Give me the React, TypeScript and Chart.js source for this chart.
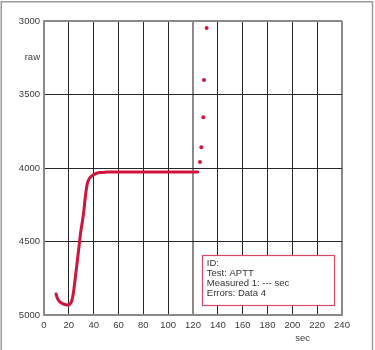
import React, { useEffect, useRef } from "react";
import { Chart, registerables } from "chart.js";

Chart.register(...registerables);

// Curve (seconds vs raw signal)
const curveSec = [9.7, 10.5, 11.5, 13, 15, 17.5, 19.6, 21, 22.3, 23.6, 25, 26.9, 28.5, 29.8, 31.7, 33, 34, 34.9, 36, 37, 38.5, 40, 42.5, 45, 50, 60, 80, 100, 123.8];
const curveRaw = [4857, 4880, 4898, 4913, 4923, 4930, 4932, 4925, 4905, 4853, 4762, 4626, 4512, 4422, 4320, 4218, 4150, 4106, 4080, 4066, 4054, 4045, 4036, 4031, 4028, 4027, 4027, 4027, 4027];

// Scattered dots after the curve
const dotSec = [125.6, 126.7, 128.3, 128.9, 131];
const dotRaw = [3959, 3859, 3655, 3401, 3048];

// Axis ranges / ticks
const xMin = 0;
const xMax = 240;
const xStep = 20;
const yMin = 3000;
const yMax = 5000;
const yStep = 500;
const markerSec = 120;

const yTitle = "raw";
const xTitle = "sec";
const infoLines = ["ID:", "Test: APTT", "Measured 1: --- sec", "Errors: Data 4"];
// info box corners in data units
const boxSec = [127.5, 233.5];
const boxRaw = [4592, 4932];

const RED = "#d2143c";
const TICK_FONT = "'Liberation Sans Narrow', 'Liberation Sans', sans-serif";

const overlay = {
  id: "overlay",
  beforeDraw(chart: any) {
    const { ctx, width, height } = chart;
    ctx.save();
    ctx.fillStyle = "#ffffff";
    ctx.fillRect(0, 0, width, height);
    ctx.strokeStyle = "#9a9a9a";
    ctx.lineWidth = 1.5;
    ctx.beginPath();
    ctx.moveTo(1.25, height);
    ctx.lineTo(1.25, 1.75);
    ctx.lineTo(width - 2.5, 1.75);
    ctx.lineTo(width - 2.5, height);
    ctx.stroke();
    ctx.restore();
  },
  afterDatasetsDraw(chart: any) {
    const { ctx, chartArea } = chart;
    const xs = chart.scales.x;
    const ys = chart.scales.y;
    ctx.save();
    // axis titles
    ctx.fillStyle = "#3a3a3a";
    ctx.font = "9.5px " + TICK_FONT;
    ctx.textAlign = "right";
    ctx.textBaseline = "middle";
    ctx.fillText(yTitle, chartArea.left - 4, chartArea.top + 36);
    ctx.textAlign = "center";
    ctx.fillText(xTitle, chartArea.left + (chartArea.right - chartArea.left) * 0.868, chartArea.bottom + 23);

    // info box
    const l = xs.getPixelForValue(boxSec[0]);
    const r = xs.getPixelForValue(boxSec[1]);
    const t = ys.getPixelForValue(boxRaw[0]);
    const b = ys.getPixelForValue(boxRaw[1]);
    ctx.fillStyle = "#ffffff";
    ctx.fillRect(l, t, r - l, b - t);
    ctx.strokeStyle = "#d8466a";
    ctx.lineWidth = 1.2;
    ctx.strokeRect(Math.round(l) + 0.5, Math.round(t) + 0.5, Math.round(r - l), Math.round(b - t));
    ctx.fillStyle = "#333333";
    ctx.font = "9.5px 'Liberation Sans', Arial, sans-serif";
    ctx.textAlign = "left";
    ctx.textBaseline = "middle";
    infoLines.forEach((s, i) => {
      ctx.fillText(s, l + 4.5, t + 8 + i * 10);
    });
    ctx.restore();
  },
};

export default function App() {
  const ref = useRef<HTMLCanvasElement | null>(null);

  useEffect(() => {
    if (!ref.current) return;
    const edgeOrMarker = (v: number) => v === xMax || v === markerSec;
    const chart = new Chart(ref.current, {
      type: "scatter",
      data: {
        datasets: [
          {
            data: curveSec.map((x, i) => ({ x, y: curveRaw[i] })),
            showLine: true,
            borderColor: RED,
            backgroundColor: RED,
            borderWidth: 3,
            pointRadius: 0,
            cubicInterpolationMode: "monotone",
            borderCapStyle: "round",
            borderJoinStyle: "round",
          },
          {
            data: dotSec.map((x, i) => ({ x, y: dotRaw[i] })),
            showLine: false,
            borderColor: RED,
            backgroundColor: RED,
            pointRadius: 2,
            pointBorderWidth: 0,
          },
        ],
      },
      options: {
        responsive: false,
        animation: false,
        layout: { padding: { left: 0, top: 21, right: 33, bottom: 0 } },
        plugins: { legend: { display: false }, tooltip: { enabled: false } },
        scales: {
          x: {
            type: "linear",
            min: xMin,
            max: xMax,
            afterFit: (s: any) => {
              s.height = 35;
              s.paddingLeft = 0;
              s.paddingRight = 0;
            },
            ticks: {
              stepSize: xStep,
              color: "#3a3a3a",
              font: { family: TICK_FONT, size: 9.5 },
              padding: 5,
              maxRotation: 0,
              callback: (v: any) => String(v),
            },
            grid: {
              drawTicks: false,
              color: (c: any) => (c.tick && edgeOrMarker(c.tick.value) ? "#8a8a8a" : "#262626"),
              lineWidth: (c: any) => (c.tick && edgeOrMarker(c.tick.value) ? 2 : 1),
            },
            border: { color: "#8a8a8a", width: 2 },
          },
          y: {
            type: "linear",
            min: yMin,
            max: yMax,
            reverse: true,
            afterFit: (s: any) => {
              s.width = 44;
              s.paddingTop = 0;
              s.paddingBottom = 0;
            },
            ticks: {
              stepSize: yStep,
              color: "#3a3a3a",
              font: { family: TICK_FONT, size: 9.5 },
              padding: 4,
              callback: (v: any) => String(v),
            },
            grid: {
              drawTicks: false,
              color: (c: any) => (c.tick && c.tick.value === yMin ? "#8a8a8a" : "#262626"),
              lineWidth: (c: any) => (c.tick && c.tick.value === yMin ? 2 : 1),
            },
            border: { color: "#8a8a8a", width: 2 },
          },
        },
      },
      plugins: [overlay],
    } as any);
    return () => chart.destroy();
  }, []);

  return (
    <div style={{ position: "fixed", left: 0, top: 0, width: 375, height: 350 }}>
      <canvas ref={ref} width={375} height={350} style={{ display: "block" }} />
    </div>
  );
}
